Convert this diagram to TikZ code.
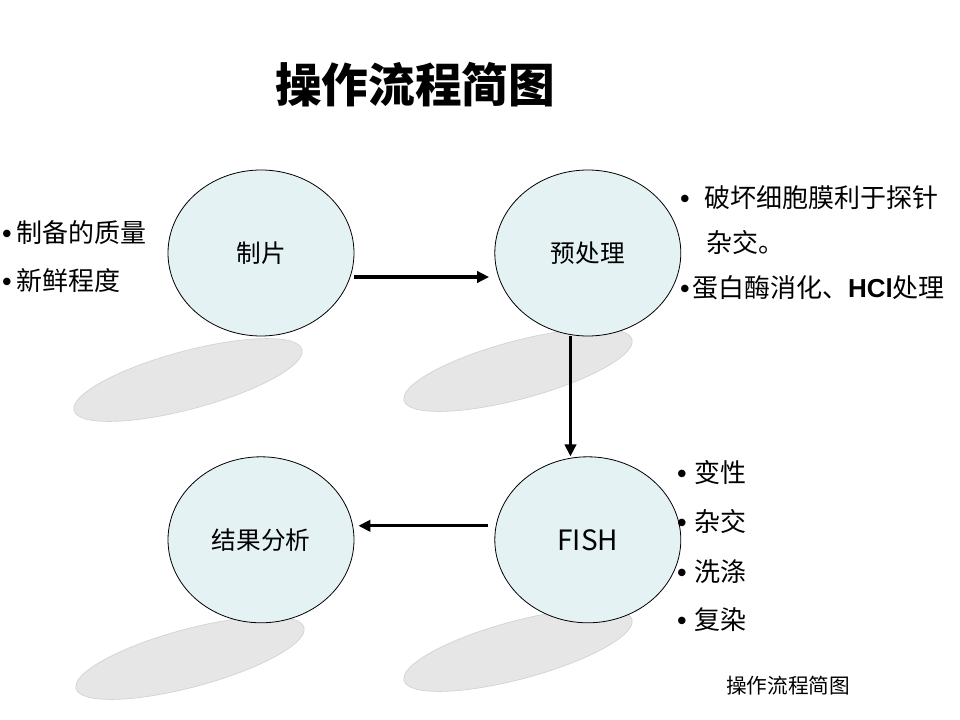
\documentclass[tikz,border=0pt]{standalone}
\usepackage{fontspec}
\setmainfont{Noto Sans CJK SC}
\newfontfamily\latinfont{Liberation Sans}
\usetikzlibrary{shapes.geometric,positioning,arrows.meta}

\definecolor{cellfill}{RGB}{228,242,244}
\definecolor{shadowgray}{RGB}{230,230,230}
\definecolor{shadowedge}{RGB}{210,210,210}

\newcommand{\pt}{{\latinfont\bfseries •}}

\tikzset{
  stagenode/.style={draw, ellipse, fill=cellfill, line width=0.6pt,
    minimum width=139.5pt, minimum height=124.5pt, inner sep=0pt,
    font=\fontsize{18.5pt}{20pt}\selectfont},
  flow/.style={line width=2.4pt, -{Triangle[length=9pt,width=8.5pt]}},
  note/.style={anchor=west, inner sep=0pt, font=\fontsize{19.5pt}{22pt}\selectfont},
}

\begin{document}
\begin{tikzpicture}[x=0.75pt,y=-0.75pt]
  \useasboundingbox (0,0) rectangle (960,720);

  % shadows under the circles
  \foreach \cx/\cy in {188/380, 518/370, 190/658, 518/650}
    \filldraw[fill=shadowgray, draw=shadowedge, line width=0.5pt,
      rotate around={15:(\cx,\cy)}] (\cx,\cy) ellipse [x radius=118, y radius=29];

  \node (title) at (415,85) {\fontsize{35pt}{40pt}\selectfont\bfseries 操作流程简图};

  \node (zhipian) [stagenode] at (261,253) {制片};
  \node (yuchuli) [stagenode, right=105pt of zhipian] {预处理};
  \node (fish) [stagenode, below=90pt of yuchuli] {\fontsize{21pt}{24pt}\selectfont FISH};
  \node (jieguo) [stagenode, left=105pt of fish] {结果分析};

  \draw[flow, shorten >=4pt] ([yshift=-18pt]zhipian.east) -- ([yshift=-18pt]yuchuli.west);
  \draw[flow] ([xshift=-13pt]yuchuli.south) -- ([xshift=-13pt]fish.north);
  \draw[flow, shorten <=4.5pt, shorten >=3pt] ([yshift=10.5pt]fish.west) -- ([yshift=10.5pt]jieguo.east);

  % notes
  \node (prep1) [note] at (2,233) {\pt\hspace{4pt}制备的质量};
  \node (prep2) [note] at (2,281) {\pt\hspace{4pt}新鲜程度};

  \node (pre1) [note] at (680,198) {\pt\hspace{11pt}破坏细胞膜利于探针};
  \node (pre2) [note] at (706,243) {杂交。};
  \node (pre3) [note] at (680,288) {\pt\hspace{2pt}蛋白酶消化、{\latinfont\bfseries HCl}处理};

  \node (fish1) [note] at (677,473) {\pt\hspace{6pt}变性};
  \node (fish2) [note] at (677,522) {\pt\hspace{6pt}杂交};
  \node (fish3) [note] at (677,572) {\pt\hspace{6pt}洗涤};
  \node (fish4) [note] at (677,620) {\pt\hspace{6pt}复染};

  \node (caption) at (788,686) {\fontsize{15.5pt}{18pt}\selectfont 操作流程简图};
\end{tikzpicture}
\end{document}
